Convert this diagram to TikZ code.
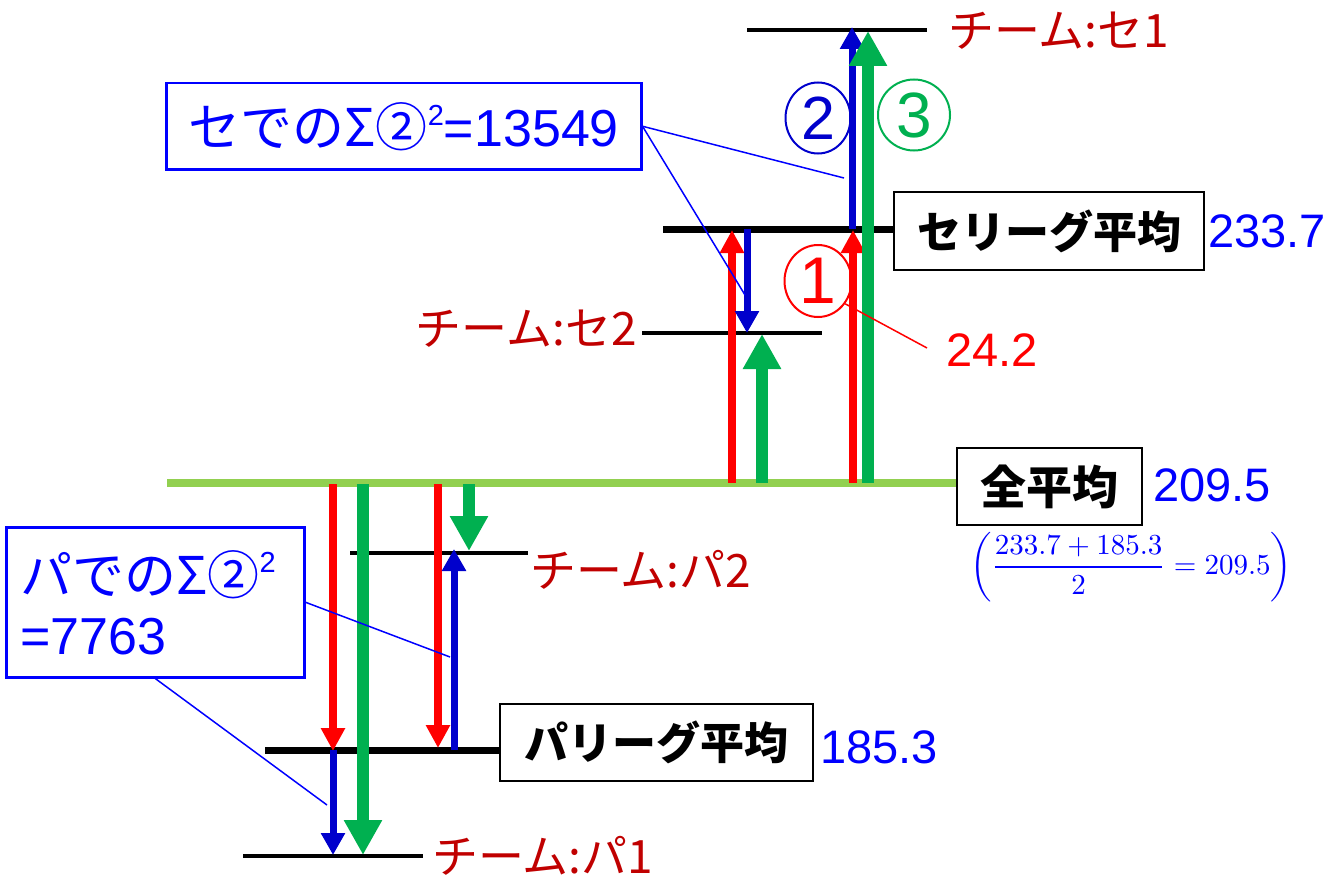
\documentclass[tikz,border=0pt]{standalone}
\usepackage{amsmath}
\usepackage{graphicx}
\usepackage{fontspec}
\setmainfont{Liberation Sans}
\newfontfamily\cjk{Noto Sans CJK JP}
\usetikzlibrary{arrows.meta,shapes.geometric}
\definecolor{dred}{HTML}{C00000}
\definecolor{lgreen}{HTML}{92D050}
\definecolor{agreen}{HTML}{00B050}
\definecolor{ablue}{HTML}{0000CC}
\definecolor{tblue}{HTML}{0000FF}
\definecolor{ared}{HTML}{FF0000}
\tikzset{
  redarr/.style={draw=ared, line width=8pt, -{Triangle[width=23pt,length=23pt]}},
  grnarr/.style={draw=agreen, line width=12pt, -{Triangle[width=36pt,length=35pt]}},
  bluarr/.style={draw=ablue, line width=7pt, -{Triangle[width=23pt,length=22pt]}},
  thinlvl/.style={draw=black, line width=3.5pt},
  barlvl/.style={draw=black, line width=7pt},
  lbox/.style={draw=black, line width=2pt, fill=white, inner sep=0pt, anchor=north west,
    font=\cjk\bfseries\fontsize{44}{50}\selectfont},
  numlab/.style={inner sep=0pt, text=tblue, font=\fontsize{47}{50}\selectfont},
  teamlab/.style={inner sep=0pt, text=dred, font=\cjk\fontsize{46}{50}\selectfont},
  cbox/.style={draw=tblue, line width=2.5pt, fill=white, anchor=north west, text=tblue,
    font=\fontsize{52}{60}\selectfont},
  cline/.style={draw=tblue, line width=1.5pt},
  cnum/.style={ellipse, line width=2pt, inner sep=0pt, font=\fontsize{61}{61}\selectfont},
}
\newcommand{\supt}{\raisebox{21pt}{\fontsize{29}{29}\selectfont 2}}
\begin{document}
\begin{tikzpicture}[x=1pt,y=-1pt]
\useasboundingbox (0,0) rectangle (1329,880);
% level lines
\draw[draw=lgreen, line width=8pt] (167,483) -- (965,483);
\draw[barlvl] (663,229) -- (897,229);
\draw[thinlvl] (747,30) -- (927,30);
\draw[thinlvl] (642,333) -- (822,333);
\draw[barlvl] (265,750) -- (502,750);
\draw[thinlvl] (350,553) -- (528,553);
\draw[thinlvl] (243,856) -- (423,856);
% upper arrows
\draw[redarr] (732,483) -- (732,230);
\draw[grnarr] (762,483) -- (762,334);
\draw[bluarr] (747,229) -- (747,333);
\draw[redarr] (853,483) -- (853,230);
\draw[bluarr] (852,229) -- (852,27);
\draw[grnarr] (868,483) -- (868,31);
% lower arrows
\draw[redarr] (333,484) -- (333,751);
\draw[grnarr] (363,484) -- (363,855);
\draw[redarr] (438,484) -- (438,748);
\draw[grnarr] (469,484) -- (469,551);
\draw[bluarr] (454,750) -- (454,549);
\draw[bluarr] (333,750) -- (333,855);
% mean boxes
\node[lbox, minimum width=185pt, minimum height=77pt, font=\cjk\bfseries\fontsize{46}{50}\selectfont] (allbox) at (956,447) {全平均};
\node[lbox, minimum width=310pt, minimum height=78pt] (sebox) at (893,191) {セリーグ平均};
\node[lbox, minimum width=313pt, minimum height=77pt] (pabox) at (499,703) {パリーグ平均};
% values
\node[numlab, anchor=west] (vall) at (1153,485) {209.5};
\node[numlab, anchor=west] (vse) at (1208,231) {233.7};
\node[numlab, anchor=west] (vpa) at (820,747) {185.3};
\node[numlab, anchor=west, text=ared] (vdiff) at (946,350) {24.2};
\node[text=tblue, inner sep=0pt] (frm) at (1131,567) {\scalebox{2.9}{$\displaystyle\left(\frac{233.7+185.3}{2}=209.5\right)$}};
% team labels
\node[teamlab, anchor=west] (t1) at (948,31) {チーム:セ1};
\node[teamlab, anchor=east] (t2) at (637,329) {チーム:セ2};
\node[teamlab, anchor=west] (t3) at (530,570) {チーム:パ2};
\node[teamlab, anchor=west] (t4) at (432,856) {チーム:パ1};
% circled numbers
\node[cnum, draw=ared, text=ared, minimum width=67pt, minimum height=72pt, font=\fontsize{66}{66}\selectfont] (c1) at (818,281) {1};
\node[cnum, draw=ablue, text=ablue, minimum width=65pt, minimum height=71pt] (c2) at (818,118) {2};
\node[cnum, draw=agreen, text=agreen, minimum width=72pt, minimum height=71pt, font=\fontsize{64}{64}\selectfont] (c3) at (914,115) {3};
\coordinate (dend) at (927,348);
\draw[draw=ared, line width=1.5pt] (c1.-40) -- (dend);
% callouts
\node[cbox, minimum width=475pt, minimum height=86pt] (sebx) at (165,82) {{\cjk セでのΣ②}\supt=13549};
\node[cbox, minimum width=298pt, minimum height=150pt, text width=270pt, align=left, inner sep=0pt, inner xsep=14pt] (pabx) at (5,526) {{\cjk パでのΣ②}\supt\\=7763};
\coordinate (sep1) at (844,178);
\coordinate (sep2) at (745,295);
\coordinate (pap1) at (450,657);
\coordinate (pap2) at (327,805);
\draw[cline] (sebx.east) -- (sep1);
\draw[cline] (sebx.east) -- (sep2);
\draw[cline] (pabx.east) -- (pap1);
\draw[cline] (pabx.south) -- (pap2);
\end{tikzpicture}
\end{document}
